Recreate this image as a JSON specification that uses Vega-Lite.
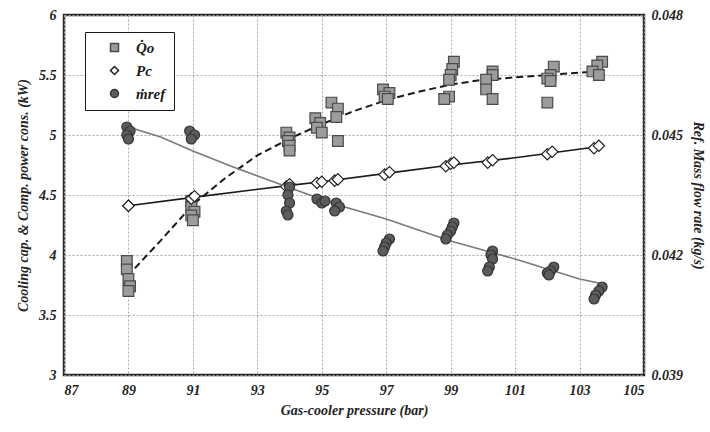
{
  "$schema": "https://vega.github.io/schema/vega-lite/v6.json",
  "width": 580,
  "height": 360,
  "autosize": {"type": "none"},
  "padding": {"left": 64, "top": 15, "right": 66, "bottom": 57},
  "background": "white",
  "config": {
    "view": {"stroke": "#2a2a2a", "strokeWidth": 2.5},
    "axis": {
      "domain": false,
      "ticks": false,
      "labelFont": "Liberation Serif",
      "labelFontStyle": "italic",
      "labelFontWeight": "bold",
      "labelFontSize": 14,
      "labelColor": "#222",
      "titleFont": "Liberation Serif",
      "titleFontStyle": "italic",
      "titleFontWeight": "bold",
      "titleFontSize": 14,
      "titleColor": "#222",
      "gridColor": "#a8a8a8",
      "gridDash": [2, 2],
      "gridWidth": 1
    }
  },
  "datasets": {
    "pts": [
      {"s": "Q", "p": 88.95, "v": 3.95}, {"s": "Q", "p": 88.95, "v": 3.88}, {"s": "Q", "p": 89.0, "v": 3.8}, {"s": "Q", "p": 89.05, "v": 3.74}, {"s": "Q", "p": 89.0, "v": 3.7},
      {"s": "Q", "p": 90.95, "v": 4.45}, {"s": "Q", "p": 90.95, "v": 4.4}, {"s": "Q", "p": 91.05, "v": 4.36}, {"s": "Q", "p": 90.95, "v": 4.33}, {"s": "Q", "p": 91.0, "v": 4.29},
      {"s": "Q", "p": 93.9, "v": 5.02}, {"s": "Q", "p": 94.0, "v": 4.98}, {"s": "Q", "p": 93.95, "v": 4.95}, {"s": "Q", "p": 94.0, "v": 4.91}, {"s": "Q", "p": 94.0, "v": 4.87},
      {"s": "Q", "p": 94.8, "v": 5.14}, {"s": "Q", "p": 94.95, "v": 5.1}, {"s": "Q", "p": 94.85, "v": 5.06}, {"s": "Q", "p": 95.0, "v": 5.02},
      {"s": "Q", "p": 95.3, "v": 5.27}, {"s": "Q", "p": 95.5, "v": 5.22}, {"s": "Q", "p": 95.45, "v": 5.15}, {"s": "Q", "p": 95.5, "v": 4.95},
      {"s": "Q", "p": 96.9, "v": 5.38}, {"s": "Q", "p": 97.1, "v": 5.35}, {"s": "Q", "p": 96.95, "v": 5.32}, {"s": "Q", "p": 97.05, "v": 5.3},
      {"s": "Q", "p": 99.1, "v": 5.61}, {"s": "Q", "p": 99.05, "v": 5.55}, {"s": "Q", "p": 99.0, "v": 5.5}, {"s": "Q", "p": 98.95, "v": 5.46}, {"s": "Q", "p": 98.95, "v": 5.32}, {"s": "Q", "p": 98.8, "v": 5.3},
      {"s": "Q", "p": 100.3, "v": 5.53}, {"s": "Q", "p": 100.3, "v": 5.5}, {"s": "Q", "p": 100.1, "v": 5.46}, {"s": "Q", "p": 100.1, "v": 5.38}, {"s": "Q", "p": 100.3, "v": 5.3},
      {"s": "Q", "p": 102.2, "v": 5.57}, {"s": "Q", "p": 102.1, "v": 5.5}, {"s": "Q", "p": 102.0, "v": 5.47}, {"s": "Q", "p": 102.1, "v": 5.45}, {"s": "Q", "p": 102.0, "v": 5.27},
      {"s": "Q", "p": 103.7, "v": 5.61}, {"s": "Q", "p": 103.55, "v": 5.58}, {"s": "Q", "p": 103.4, "v": 5.53}, {"s": "Q", "p": 103.6, "v": 5.5},
      {"s": "P", "p": 89.0, "v": 4.41}, {"s": "P", "p": 89.0, "v": 4.41},
      {"s": "P", "p": 90.95, "v": 4.47}, {"s": "P", "p": 91.05, "v": 4.49},
      {"s": "P", "p": 93.9, "v": 4.57}, {"s": "P", "p": 94.0, "v": 4.59},
      {"s": "P", "p": 94.85, "v": 4.6}, {"s": "P", "p": 95.0, "v": 4.61},
      {"s": "P", "p": 95.4, "v": 4.62}, {"s": "P", "p": 95.5, "v": 4.63},
      {"s": "P", "p": 96.95, "v": 4.67}, {"s": "P", "p": 97.1, "v": 4.69},
      {"s": "P", "p": 98.85, "v": 4.74}, {"s": "P", "p": 99.0, "v": 4.76}, {"s": "P", "p": 99.1, "v": 4.77},
      {"s": "P", "p": 100.15, "v": 4.77}, {"s": "P", "p": 100.3, "v": 4.79},
      {"s": "P", "p": 102.0, "v": 4.84}, {"s": "P", "p": 102.15, "v": 4.86},
      {"s": "P", "p": 103.45, "v": 4.89}, {"s": "P", "p": 103.6, "v": 4.91},
      {"s": "m", "p": 88.95, "v": 0.0452}, {"s": "m", "p": 89.05, "v": 0.0451}, {"s": "m", "p": 88.95, "v": 0.045}, {"s": "m", "p": 89.0, "v": 0.0449},
      {"s": "m", "p": 90.9, "v": 0.0451}, {"s": "m", "p": 91.05, "v": 0.045}, {"s": "m", "p": 90.95, "v": 0.0449},
      {"s": "m", "p": 94.0, "v": 0.0437}, {"s": "m", "p": 93.95, "v": 0.0435}, {"s": "m", "p": 94.0, "v": 0.0433}, {"s": "m", "p": 93.9, "v": 0.0431}, {"s": "m", "p": 93.95, "v": 0.043},
      {"s": "m", "p": 94.85, "v": 0.0434}, {"s": "m", "p": 95.0, "v": 0.0433}, {"s": "m", "p": 95.1, "v": 0.04335},
      {"s": "m", "p": 95.45, "v": 0.0433}, {"s": "m", "p": 95.55, "v": 0.0432}, {"s": "m", "p": 95.4, "v": 0.0431},
      {"s": "m", "p": 97.1, "v": 0.0424}, {"s": "m", "p": 97.0, "v": 0.0423}, {"s": "m", "p": 96.95, "v": 0.0422}, {"s": "m", "p": 96.9, "v": 0.0421},
      {"s": "m", "p": 99.1, "v": 0.0428}, {"s": "m", "p": 99.05, "v": 0.0427}, {"s": "m", "p": 99.0, "v": 0.0426}, {"s": "m", "p": 98.9, "v": 0.0425}, {"s": "m", "p": 98.85, "v": 0.0424},
      {"s": "m", "p": 100.3, "v": 0.0421}, {"s": "m", "p": 100.25, "v": 0.042}, {"s": "m", "p": 100.3, "v": 0.0419}, {"s": "m", "p": 100.2, "v": 0.0417}, {"s": "m", "p": 100.15, "v": 0.0416},
      {"s": "m", "p": 102.2, "v": 0.0417}, {"s": "m", "p": 102.1, "v": 0.0416}, {"s": "m", "p": 102.0, "v": 0.04155}, {"s": "m", "p": 102.05, "v": 0.0415},
      {"s": "m", "p": 103.7, "v": 0.0412}, {"s": "m", "p": 103.6, "v": 0.0411}, {"s": "m", "p": 103.5, "v": 0.041}, {"s": "m", "p": 103.45, "v": 0.0409}
    ],
    "fit": [
      {"s": "Q", "p": 89.2, "v": 3.89}, {"s": "Q", "p": 90, "v": 4.12}, {"s": "Q", "p": 91, "v": 4.42}, {"s": "Q", "p": 92, "v": 4.64}, {"s": "Q", "p": 93, "v": 4.83}, {"s": "Q", "p": 94, "v": 4.97}, {"s": "Q", "p": 95, "v": 5.09}, {"s": "Q", "p": 96, "v": 5.2}, {"s": "Q", "p": 97, "v": 5.29}, {"s": "Q", "p": 98, "v": 5.36}, {"s": "Q", "p": 99, "v": 5.42}, {"s": "Q", "p": 100, "v": 5.46}, {"s": "Q", "p": 101, "v": 5.48}, {"s": "Q", "p": 102, "v": 5.5}, {"s": "Q", "p": 103, "v": 5.52}, {"s": "Q", "p": 103.6, "v": 5.53},
      {"s": "P", "p": 89, "v": 4.41}, {"s": "P", "p": 91, "v": 4.48}, {"s": "P", "p": 94, "v": 4.58}, {"s": "P", "p": 95, "v": 4.61}, {"s": "P", "p": 97, "v": 4.68}, {"s": "P", "p": 99, "v": 4.75}, {"s": "P", "p": 101, "v": 4.81}, {"s": "P", "p": 103.5, "v": 4.9},
      {"s": "m", "p": 89, "v": 0.0452}, {"s": "m", "p": 90, "v": 0.04495}, {"s": "m", "p": 91, "v": 0.0446}, {"s": "m", "p": 92.25, "v": 0.0442}, {"s": "m", "p": 94, "v": 0.04368}, {"s": "m", "p": 95.5, "v": 0.04325}, {"s": "m", "p": 97, "v": 0.0429}, {"s": "m", "p": 99, "v": 0.04235}, {"s": "m", "p": 101, "v": 0.0419}, {"s": "m", "p": 103, "v": 0.0414}, {"s": "m", "p": 103.6, "v": 0.0413}
    ]
  },
  "encoding": {
    "x": {
      "field": "p", "type": "quantitative",
      "scale": {"domain": [87, 105], "nice": false, "zero": false},
      "axis": {"values": [87, 89, 91, 93, 95, 97, 99, 101, 103, 105], "title": "Gas-cooler pressure (bar)", "labelPadding": 8, "titlePadding": 6, "grid": true}
    }
  },
  "layer": [
    {
      "encoding": {
        "y": {
          "field": "v", "type": "quantitative",
          "scale": {"domain": [3, 6], "nice": false, "zero": false},
          "axis": {"values": [3, 3.5, 4, 4.5, 5, 5.5, 6], "format": "~g", "title": "Cooling cap. & Comp. power cons. (kW)", "labelPadding": 8, "titlePadding": 8, "grid": true, "orient": "left"}
        }
      },
      "layer": [
        {
          "data": {"name": "fit"},
          "transform": [{"filter": "datum.s === 'Q'"}],
          "mark": {"type": "line", "color": "#1a1a1a", "strokeWidth": 2, "strokeDash": [7, 4]},
          "encoding": {}
        },
        {
          "data": {"name": "fit"},
          "transform": [{"filter": "datum.s === 'P'"}],
          "mark": {"type": "line", "color": "#1a1a1a", "strokeWidth": 1.6},
          "encoding": {}
        },
        {
          "data": {"name": "pts"},
          "transform": [{"filter": "datum.s === 'Q'"}],
          "mark": {"type": "point", "filled": true, "strokeWidth": 1.2, "opacity": 1, "size": 115},
          "encoding": {
            "shape": {"field": "s", "type": "nominal", "scale": {"domain": ["Q", "P", "m"], "range": ["square", "diamond", "circle"]},
              "legend": {
                "title": null,
                "orient": "none",
                "legendX": 21,
                "legendY": 17,
                "strokeColor": "#1a1a1a",
                "fillColor": "white",
                "padding": 8,
                "rowPadding": 7,
                "symbolSize": 64,
                "symbolStrokeWidth": 1.5,
                "symbolOffset": 14,
                "labelOffset": 14,
                "labelFont": "Liberation Serif",
                "labelFontWeight": "bold",
                "labelFontStyle": "italic",
                "labelFontSize": 15,
                "labelColor": "#1a1a1a",
                "labelExpr": "datum.value === 'Q' ? 'Q̇o' : datum.value === 'P' ? 'Pc' : 'ṁref'"
              }
            },
            "fill": {"field": "s", "type": "nominal", "scale": {"domain": ["Q", "P", "m"], "range": ["#9c9c9c", "#ffffff", "#5c5c5c"]}},
            "stroke": {"field": "s", "type": "nominal", "scale": {"domain": ["Q", "P", "m"], "range": ["#4a4a4a", "#1e1e1e", "#333333"]}}
          }
        },
        {
          "data": {"name": "pts"},
          "transform": [{"filter": "datum.s === 'P'"}],
          "mark": {"type": "point", "filled": true, "strokeWidth": 1.2, "opacity": 1, "size": 130},
          "encoding": {
            "shape": {"field": "s", "type": "nominal", "scale": {"domain": ["Q", "P", "m"], "range": ["square", "diamond", "circle"]}},
            "fill": {"field": "s", "type": "nominal", "scale": {"domain": ["Q", "P", "m"], "range": ["#9c9c9c", "#ffffff", "#5c5c5c"]}},
            "stroke": {"field": "s", "type": "nominal", "scale": {"domain": ["Q", "P", "m"], "range": ["#4a4a4a", "#1e1e1e", "#333333"]}}
          }
        }
      ]
    },
    {
      "encoding": {
        "y": {
          "field": "v", "type": "quantitative",
          "scale": {"domain": [0.039, 0.048], "nice": false, "zero": false},
          "axis": {"values": [0.039, 0.042, 0.045, 0.048], "format": ".3f", "title": "Ref. Mass flow rate (kg/s)", "labelPadding": 7, "titlePadding": 8, "grid": false, "orient": "right"}
        }
      },
      "layer": [
        {
          "data": {"name": "fit"},
          "transform": [{"filter": "datum.s === 'm'"}],
          "mark": {"type": "line", "color": "#7a7a7a", "strokeWidth": 1.6},
          "encoding": {}
        },
        {
          "data": {"name": "pts"},
          "transform": [{"filter": "datum.s === 'm'"}],
          "mark": {"type": "point", "filled": true, "strokeWidth": 1.2, "opacity": 1, "size": 100},
          "encoding": {
            "shape": {"field": "s", "type": "nominal", "scale": {"domain": ["Q", "P", "m"], "range": ["square", "diamond", "circle"]}},
            "fill": {"field": "s", "type": "nominal", "scale": {"domain": ["Q", "P", "m"], "range": ["#9c9c9c", "#ffffff", "#5c5c5c"]}},
            "stroke": {"field": "s", "type": "nominal", "scale": {"domain": ["Q", "P", "m"], "range": ["#4a4a4a", "#1e1e1e", "#333333"]}}
          }
        }
      ]
    }
  ],
  "resolve": {"scale": {"y": "independent"}}
}
